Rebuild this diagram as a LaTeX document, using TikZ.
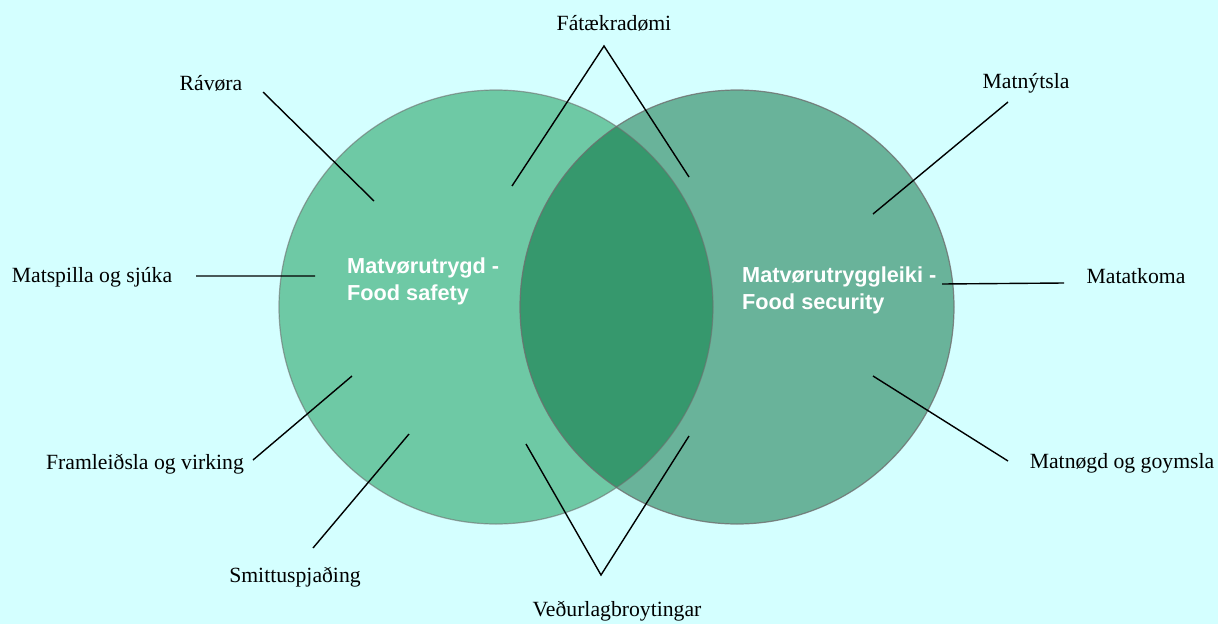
\documentclass[tikz,border=0pt]{standalone}
\usepackage{fontspec}
\setmainfont{Liberation Serif}
\setsansfont{Liberation Sans}
\usepackage{tikz}
\usetikzlibrary{positioning}
\definecolor{skybg}{RGB}{212,255,255}
\definecolor{safetygreen}{RGB}{110,201,165}
\definecolor{securitygreen}{RGB}{0,105,54}
\definecolor{ringgray}{RGB}{110,110,110}

\begin{document}
\begin{tikzpicture}[x=1pt,y=-1pt,
  word/.style={inner sep=0pt,font=\fontsize{21.7}{24}\selectfont},
  title/.style={inner sep=0pt,anchor=west,align=left,text=white,font=\sffamily\bfseries\fontsize{21.7}{27}\selectfont},
  ring/.style={draw=ringgray,line width=1.2pt},
  link/.style={draw=black,line width=1.4pt}]
  \useasboundingbox (0,0) rectangle (1218,624);
  \fill[skybg] (0,0) rectangle (1218,624);

  % the two sets
  \fill[safetygreen] (496,307) circle (217);
  \path[ring,fill=securitygreen,fill opacity=0.5,draw opacity=0.8] (737,307) circle (217);
  \draw[ring,draw opacity=0.6] (496,307) circle (217);
  \node[title] (safety) at (347,281) {Matvørutrygd -\\Food safety};
  \node[title] (security) at (742,290) {Matvørutryggleiki -\\Food security};

  % labels round the sets
  \node[word] (poverty) at (614,23) {Fátækradømi};
  \node[word] (climate) at (617,611) {Veðurlagbroytingar};
  \node[word] (raw) at (211,83) {Rávøra};
  \node[word] (spoil) at (92,277) {Matspilla og sjúka};
  \node[word] (prod) at (145,464) {Framleiðsla og virking};
  \node[word] (spread) at (295,577) {Smittuspjaðing};
  \node[word] (use) at (1026,83) {Matnýtsla};
  \node[word] (access) at (1136,276) {Matatkoma};
  \node[word] (supply) at (1122,463) {Matnøgd og goymsla};

  % line ends
  \coordinate (poverty-top) at (604,46);
  \coordinate (poverty-l) at (512,186);
  \coordinate (poverty-r) at (689,177);
  \coordinate (climate-bot) at (601,575);
  \coordinate (climate-l) at (526,444);
  \coordinate (climate-r) at (689,436);
  \coordinate (raw-a) at (263,92);    \coordinate (raw-b) at (374,201);
  \coordinate (spoil-a) at (196,276); \coordinate (spoil-b) at (315,276);
  \coordinate (prod-a) at (253,460);  \coordinate (prod-b) at (352,376);
  \coordinate (spread-a) at (313,548); \coordinate (spread-b) at (409,434);
  \coordinate (use-a) at (1008,102);  \coordinate (use-b) at (873,214);
  \coordinate (access-a) at (1064,283); \coordinate (access-b) at (942,284);
  \coordinate (supply-a) at (1008,461); \coordinate (supply-b) at (873,376);

  \path[link]
  (poverty-l) -- (poverty-top) -- (poverty-r)
  (climate-l) -- (climate-bot) -- (climate-r)
  (raw-a) -- (raw-b)
  (spoil-a) -- (spoil-b)
  (prod-a) -- (prod-b)
  (spread-a) -- (spread-b)
  (use-a) -- (use-b)
  (access-a) -- (access-b)
  (supply-a) -- (supply-b)
  ;
\end{tikzpicture}
\end{document}
